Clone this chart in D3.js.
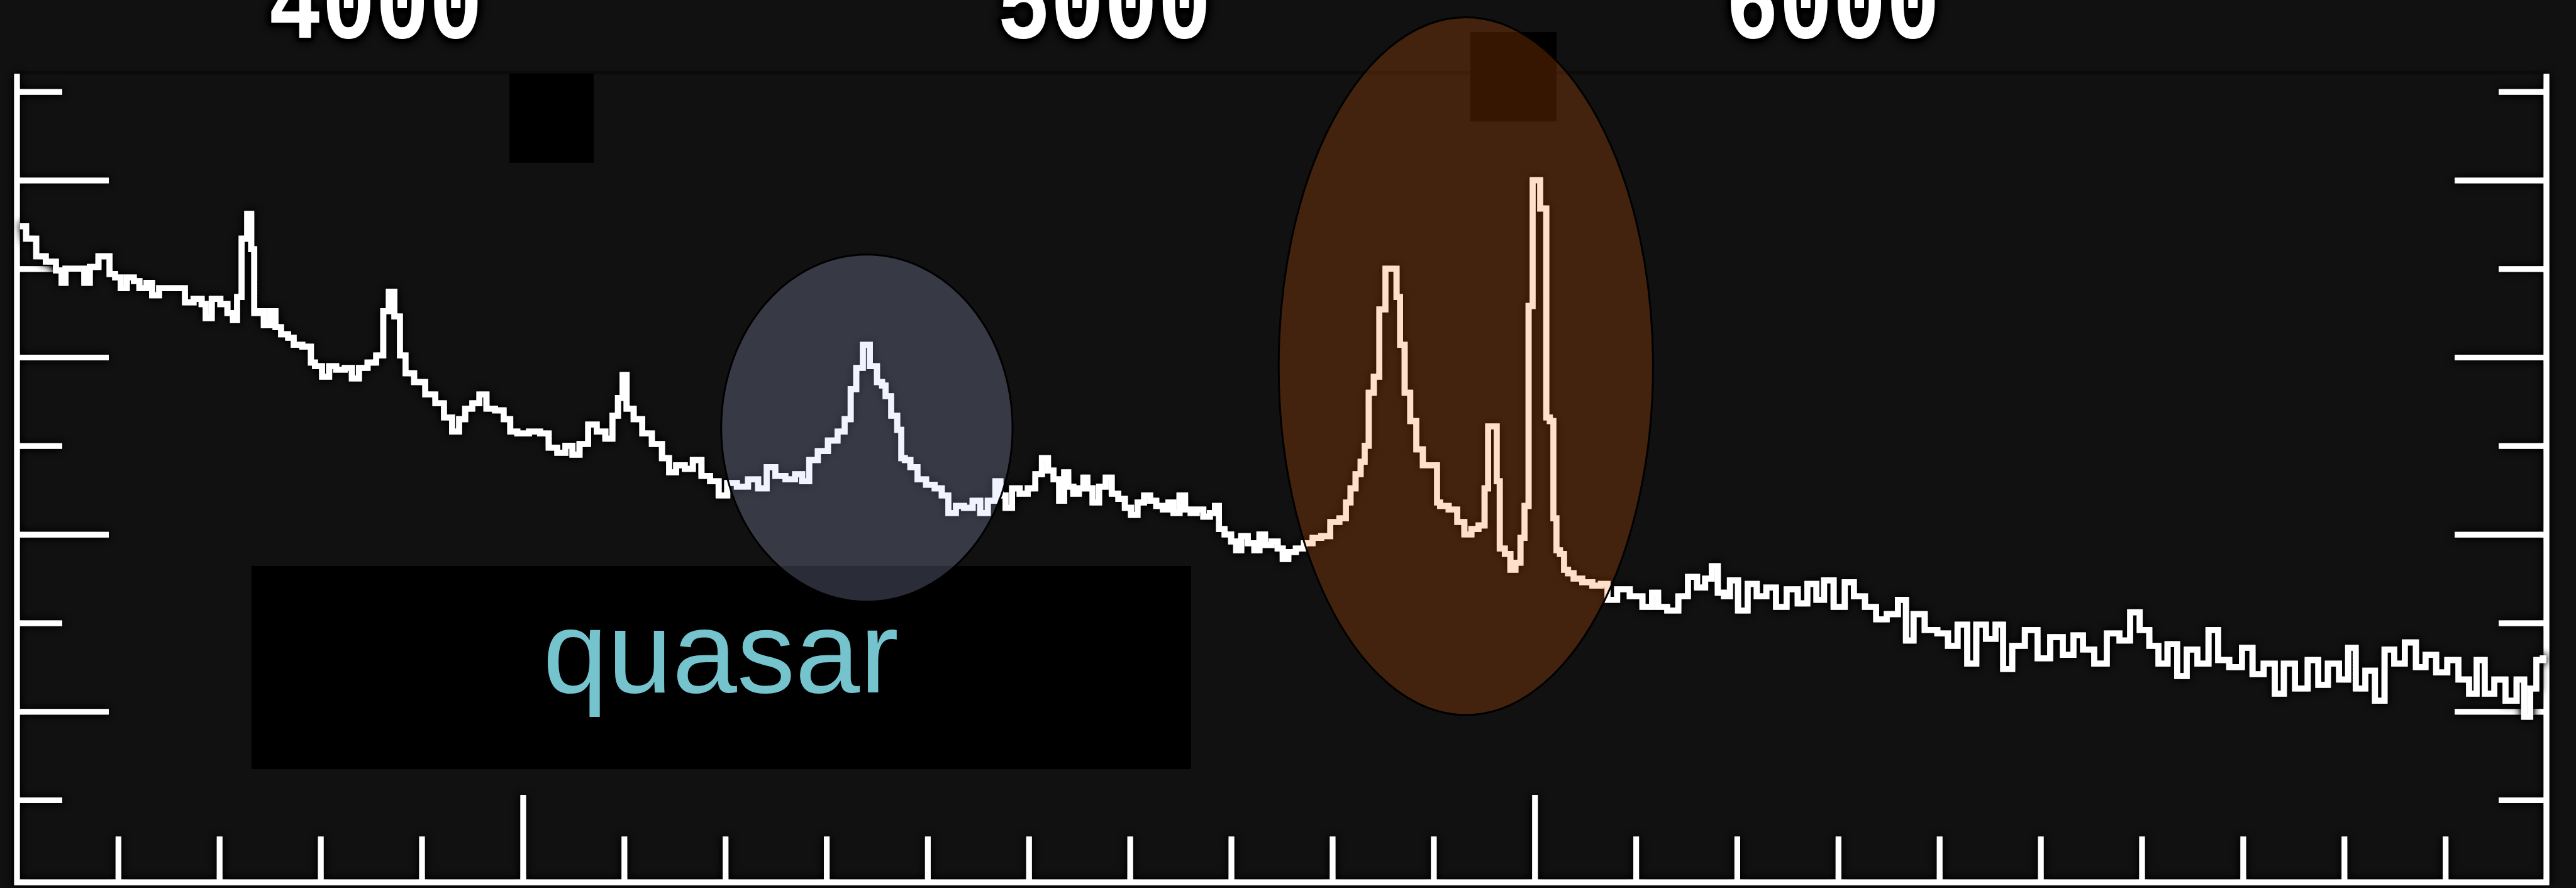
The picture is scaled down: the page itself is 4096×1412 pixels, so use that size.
<!DOCTYPE html>
<html>
<head>
<meta charset="utf-8">
<script src="https://cdn.jsdelivr.net/npm/d3@7"></script>
<style>
  html, body { margin: 0; padding: 0; background: #111111; overflow: hidden; }
  svg { display: block; }
</style>
</head>
<body>
<svg id="chart" width="4096" height="1412"></svg>
<script>
// Rest-frame wavelength of each spectral bin (Å)
const wavelength = [
  3503, 3515, 3523, 3534, 3543, 3545, 3551, 3565, 3568, 3576, 3585, 3590, 3593, 3601, 3604, 3613,
  3618, 3624, 3632, 3635, 3646, 3663, 3669, 3680, 3685, 3688, 3697, 3705, 3711, 3716, 3719, 3725,
  3730, 3733, 3736, 3741, 3747, 3753, 3758, 3764, 3772, 3775, 3789, 3792, 3797, 3806, 3811, 3820,
  3828, 3834, 3842, 3851, 3859, 3865, 3870, 3876, 3881, 3887, 3898, 3909, 3918, 3926, 3934, 3940,
  3946, 3954, 3960, 3968, 3977, 3985, 3990, 3999, 4013, 4021, 4030, 4038, 4046, 4052, 4060, 4069,
  4077, 4086, 4091, 4097, 4100, 4105, 4114, 4122, 4133, 4142, 4147, 4156, 4164, 4172, 4181, 4189,
  4198, 4206, 4217, 4228, 4237, 4245, 4254, 4265, 4273, 4279, 4287, 4296, 4307, 4315, 4321, 4327,
  4332, 4340, 4346, 4354, 4356, 4361, 4367, 4373, 4375, 4380, 4386, 4394, 4403, 4411, 4417, 4424,
  4432, 4440, 4449, 4455, 4464, 4470, 4474, 4480, 4487, 4495, 4503, 4510, 4516, 4522, 4527, 4533,
  4537, 4541, 4547, 4552, 4556, 4560, 4566, 4573, 4579, 4585, 4592, 4598, 4604, 4611, 4617, 4623,
  4629, 4636, 4640, 4646, 4652, 4657, 4663, 4669, 4676, 4682, 4686, 4690, 4697, 4703, 4707, 4713,
  4720, 4726, 4730, 4737, 4743, 4749, 4753, 4760, 4768, 4776, 4785, 4793, 4803, 4811, 4816, 4820,
  4826, 4830, 4834, 4838, 4844, 4849, 4856, 4862, 4865, 4869, 4874, 4880, 4886, 4893, 4903, 4904,
  4909, 4921, 4926, 4935, 4940, 4949, 4952, 4956, 4961, 4964, 4967, 4974, 4978, 4984, 4988, 4992,
  4996, 5000, 5005, 5006, 5010, 5013, 5017, 5020, 5023, 5027, 5031, 5035, 5042, 5052, 5062, 5069,
  5075, 5088, 5100, 5113, 5119, 5125, 5137, 5147, 5156, 5165, 5172, 5178, 5184, 5190, 5196, 5206,
  5215, 5224, 5234, 5243, 5255, 5265, 5274, 5283, 5289, 5302, 5311, 5320, 5333, 5342, 5354, 5364,
  5370, 5379, 5392, 5404, 5413, 5423, 5432, 5441, 5451, 5460, 5466, 5478, 5491, 5503, 5516, 5528,
  5537, 5547, 5559, 5572, 5584, 5593, 5603, 5612, 5621, 5630, 5640, 5649, 5661, 5671, 5680, 5693,
  5705, 5714, 5727, 5736, 5745, 5758, 5770, 5779, 5789, 5801, 5807, 5816, 5826, 5835, 5845, 5854,
  5866, 5876, 5885, 5897, 5907, 5919, 5928, 5934, 5944, 5953, 5966, 5975, 5981, 5987, 5993, 6000
];

// Flux density in each bin (arbitrary units)
const flux = [
  3.74, 3.67, 3.57, 3.54, 3.49, 3.42, 3.50, 3.50, 3.42, 3.51, 3.57, 3.57, 3.47, 3.45, 3.39, 3.45,
  3.43, 3.39, 3.42, 3.35, 3.39, 3.39, 3.31, 3.33, 3.30, 3.22, 3.33, 3.30, 3.25, 3.21, 3.34, 3.67,
  3.81, 3.61, 3.25, 3.26, 3.18, 3.26, 3.17, 3.13, 3.11, 3.07, 3.06, 2.97, 2.95, 2.89, 2.95, 2.93,
  2.94, 2.88, 2.94, 2.97, 3.01, 3.26, 3.37, 3.23, 3.01, 2.91, 2.86, 2.79, 2.74, 2.66, 2.58, 2.65,
  2.71, 2.74, 2.79, 2.71, 2.70, 2.65, 2.58, 2.57, 2.58, 2.57, 2.49, 2.46, 2.50, 2.45, 2.51, 2.62,
  2.58, 2.54, 2.67, 2.77, 2.90, 2.71, 2.65, 2.57, 2.51, 2.43, 2.35, 2.39, 2.37, 2.42, 2.33, 2.30,
  2.22, 2.29, 2.27, 2.31, 2.26, 2.38, 2.33, 2.31, 2.34, 2.30, 2.42, 2.47, 2.53, 2.58, 2.65, 2.82,
  2.94, 3.07, 2.95, 2.86, 2.84, 2.78, 2.67, 2.59, 2.43, 2.42, 2.38, 2.31, 2.28, 2.26, 2.22, 2.12,
  2.16, 2.15, 2.19, 2.12, 2.19, 2.30, 2.22, 2.15, 2.26, 2.23, 2.26, 2.34, 2.43, 2.36, 2.31, 2.19,
  2.35, 2.27, 2.23, 2.26, 2.32, 2.26, 2.18, 2.27, 2.32, 2.23, 2.20, 2.15, 2.11, 2.18, 2.22, 2.19,
  2.16, 2.14, 2.18, 2.12, 2.22, 2.14, 2.12, 2.14, 2.10, 2.12, 2.16, 2.03, 2.00, 1.96, 1.91, 1.99,
  1.95, 1.91, 2.00, 1.94, 1.96, 1.92, 1.86, 1.90, 1.92, 1.95, 1.98, 1.99, 2.07, 2.09, 2.18, 2.26,
  2.34, 2.41, 2.50, 2.80, 2.89, 3.27, 3.50, 3.50, 3.34, 3.07, 2.80, 2.64, 2.48, 2.39, 2.39, 2.18,
  2.16, 2.14, 2.07, 2.00, 2.03, 2.05, 2.26, 2.61, 2.61, 2.30, 1.92, 1.89, 1.80, 1.84, 1.98, 2.16,
  3.29, 4.00, 4.00, 3.84, 3.84, 2.66, 2.64, 2.09, 1.91, 1.89, 1.80, 1.78, 1.75, 1.73, 1.71, 1.72,
  1.63, 1.69, 1.65, 1.59, 1.67, 1.59, 1.57, 1.65, 1.76, 1.70, 1.75, 1.82, 1.67, 1.65, 1.74, 1.57,
  1.72, 1.65, 1.70, 1.59, 1.69, 1.61, 1.72, 1.63, 1.74, 1.59, 1.73, 1.65, 1.59, 1.52, 1.55, 1.63,
  1.40, 1.55, 1.46, 1.44, 1.37, 1.49, 1.27, 1.49, 1.41, 1.49, 1.24, 1.37, 1.46, 1.30, 1.42, 1.32,
  1.43, 1.35, 1.27, 1.44, 1.40, 1.56, 1.46, 1.37, 1.27, 1.38, 1.20, 1.35, 1.27, 1.46, 1.29, 1.25,
  1.36, 1.21, 1.27, 1.10, 1.27, 1.13, 1.29, 1.15, 1.27, 1.18, 1.36, 1.13, 1.23, 1.06, 1.35, 1.27,
  1.39, 1.25, 1.32, 1.22, 1.29, 1.18, 1.10, 1.29, 1.10, 1.18, 1.06, 1.18, 0.97, 1.13, 1.29, 1.30
];

// Axis ticks
const xMajorTicks = [4000, 5000];
const xMinorTicks = [3600, 3700, 3800, 3900, 4100, 4200, 4300, 4400, 4500, 4600, 4700, 4800,
                     4900, 5100, 5200, 5300, 5400, 5500, 5600, 5700, 5800, 5900];
const yMajorTicks = [1, 2, 3, 4];
const yMinorTicks = [0.5, 1.5, 2.5, 3.5, 4.5];
const topTickLabels = [4000, 5000, 6000];

// Highlighted emission features: H-gamma, and H-beta with the [O III] doublet
const highlightNames = ["Hgamma", "Hbeta+OIII"];
const highlightCenter = [4340, 4932];     // Å
const highlightHalfWidth = [144, 185];    // Å
const highlightFluxCenter = [2.60, 2.95];
const highlightFluxHalf = [0.98, 1.97];

const caption = "quasar";

// ---------------------------------------------------------------------------
const W = 4096, H = 1412;
const frame = { left: 27, right: 4049, top: 117.5, bottom: 1403 };
const STROKE = 9;

const svg = d3.select("#chart");

const x = d3.scaleLinear().domain([3500, 6000]).range([frame.left, frame.right]);
const y = d3.scaleLinear().domain([0.035, 4.6]).range([frame.bottom, frame.top]);
const xTop = d3.scaleLinear().domain([4000, 6000]).range([597, 2914]);

// soft dark halo around the bright strokes
const defs = svg.append("defs");
const halo = defs.append("filter").attr("id", "halo")
  .attr("filterUnits", "userSpaceOnUse")
  .attr("x", -50).attr("y", -50).attr("width", W + 100).attr("height", H + 100);
halo.append("feGaussianBlur").attr("in", "SourceAlpha").attr("stdDeviation", 7).attr("result", "b");
halo.append("feComponentTransfer").attr("in", "b").attr("result", "bb")
  .append("feFuncA").attr("type", "linear").attr("slope", 1.6);
const merge = halo.append("feMerge");
merge.append("feMergeNode").attr("in", "bb");
merge.append("feMergeNode").attr("in", "SourceGraphic");

svg.append("rect").attr("width", W).attr("height", H).attr("fill", "#111111");

// faint upper edge of the plotting box
svg.append("line")
  .attr("x1", frame.left).attr("x2", frame.right)
  .attr("y1", frame.top - 2).attr("y2", frame.top - 2)
  .attr("stroke", "#000").attr("stroke-opacity", 0.3).attr("stroke-width", 6);

// ---- axes -----------------------------------------------------------------
const axes = svg.append("g").attr("filter", "url(#halo)");

function styleAxis(g) {
  g.select(".domain").remove();
  g.selectAll(".tick line").attr("stroke", "#fff").attr("stroke-width", STROKE);
  g.selectAll(".tick text").remove();
}

axes.append("g").attr("transform", `translate(0,${frame.bottom})`)
  .call(d3.axisTop(x).tickValues(xMinorTicks).tickSize(73).tickFormat(""))
  .call(styleAxis);
axes.append("g").attr("transform", `translate(0,${frame.bottom})`)
  .call(d3.axisTop(x).tickValues(xMajorTicks).tickSize(139).tickFormat(""))
  .call(styleAxis);

axes.append("g").attr("transform", `translate(${frame.left},0)`)
  .call(d3.axisRight(y).tickValues(yMinorTicks).tickSize(72).tickFormat(""))
  .call(styleAxis);
axes.append("g").attr("transform", `translate(${frame.left},0)`)
  .call(d3.axisRight(y).tickValues(yMajorTicks).tickSize(146).tickFormat(""))
  .call(styleAxis);

axes.append("g").attr("transform", `translate(${frame.right},0)`)
  .call(d3.axisLeft(y).tickValues(yMinorTicks).tickSize(76).tickFormat(""))
  .call(styleAxis);
axes.append("g").attr("transform", `translate(${frame.right},0)`)
  .call(d3.axisLeft(y).tickValues(yMajorTicks).tickSize(146).tickFormat(""))
  .call(styleAxis);

axes.append("path")
  .attr("d", `M${frame.left},${frame.top}V${frame.bottom}H${frame.right}V${frame.top}`)
  .attr("fill", "none").attr("stroke", "#fff").attr("stroke-width", STROKE);

// ---- spectrum ---------------------------------------------------------------
const spectrum = wavelength.map((w, i) => ({ w, f: flux[i] }));
const line = d3.line().x(d => x(d.w)).y(d => y(d.f)).curve(d3.curveStep);

svg.append("path")
  .datum(spectrum)
  .attr("d", line)
  .attr("fill", "none")
  .attr("stroke", "#ffffff")
  .attr("stroke-width", 9.5)
  .attr("stroke-linejoin", "miter")
  .attr("filter", "url(#halo)");

// ---- masking blocks ---------------------------------------------------------
const blocks = [
  { x: 810, y: 117, w: 134, h: 142 },
  { x: 2338, y: 51, w: 137, h: 142 },
  { x: 400, y: 900, w: 1494, h: 323 }
];
svg.selectAll("rect.block").data(blocks).enter().append("rect")
  .attr("class", "block")
  .attr("x", d => d.x).attr("y", d => d.y)
  .attr("width", d => d.w).attr("height", d => d.h)
  .attr("fill", "#000");

// ---- highlight ellipses -----------------------------------------------------
const highlightFill = ["rgb(190,199,249)", "rgb(255,105,0)"];
const highlightOpacity = [0.22, 0.21];
const highlights = highlightNames.map((n, i) => ({
  name: n, c: highlightCenter[i], hw: highlightHalfWidth[i],
  fc: highlightFluxCenter[i], fh: highlightFluxHalf[i],
  fill: highlightFill[i], op: highlightOpacity[i]
}));

const hg = svg.selectAll("g.highlight").data(highlights).enter().append("g").attr("class", "highlight");
hg.append("ellipse")
  .attr("cx", d => x(d.c))
  .attr("cy", d => y(d.fc))
  .attr("rx", d => x(d.c + d.hw) - x(d.c))
  .attr("ry", d => y(d.fc - d.fh) - y(d.fc))
  .attr("fill", d => d.fill)
  .attr("fill-opacity", d => d.op)
  .attr("stroke", "none");
hg.append("ellipse")
  .attr("cx", d => x(d.c))
  .attr("cy", d => y(d.fc))
  .attr("rx", d => x(d.c + d.hw) - x(d.c))
  .attr("ry", d => y(d.fc - d.fh) - y(d.fc))
  .attr("fill", "none")
  .attr("stroke", "#000")
  .attr("stroke-width", 3);

// ---- caption ------------------------------------------------------------------
svg.append("text")
  .attr("x", blocks[2].x + blocks[2].w / 2 - 1)
  .attr("y", 1101)
  .attr("text-anchor", "middle")
  .attr("font-family", "'Liberation Sans', Arial, Helvetica, sans-serif")
  .attr("font-size", 185)
  .attr("fill", "#74c3cd")
  .text(caption);

// ---- top wavelength labels (upper part runs off the top edge) ----------------
svg.append("g").attr("filter", "url(#halo)")
  .selectAll("text").data(topTickLabels).enter().append("text")
  .attr("transform", d => `translate(${xTop(d)},60) scale(1,1.22)`)
  .attr("text-anchor", "middle")
  .attr("font-family", "'Liberation Mono', 'Courier New', monospace")
  .attr("font-weight", "bold")
  .attr("font-size", 142)
  .attr("fill", "#fff")
  .attr("stroke", "#000")
  .attr("stroke-width", 9)
  .attr("stroke-linejoin", "round")
  .style("paint-order", "stroke")
  .text(d => d);
</script>
</body>
</html>
